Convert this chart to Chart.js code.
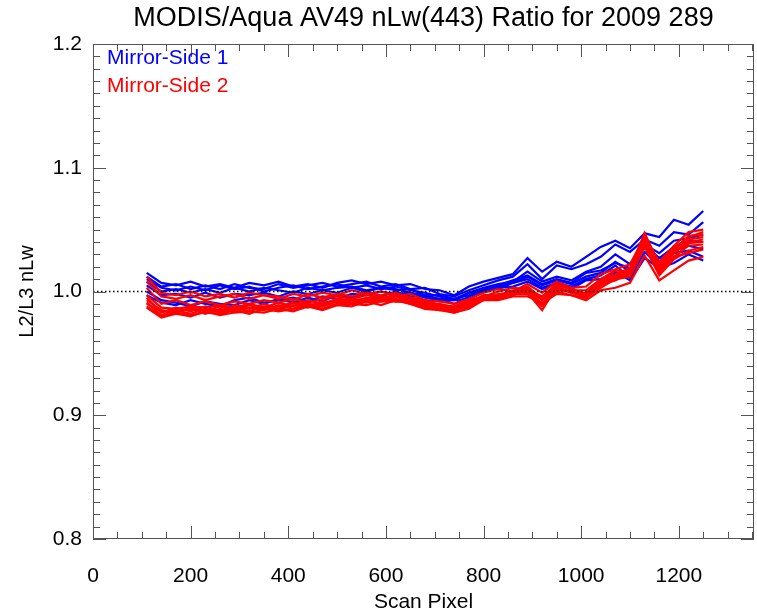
<!DOCTYPE html>
<html>
<head>
<meta charset="utf-8">
<title>MODIS/Aqua AV49 nLw(443) Ratio for 2009 289</title>
<script src="https://cdn.jsdelivr.net/npm/chart.js@4.4.1/dist/chart.umd.min.js"></script>
<style>
  html, body { margin: 0; padding: 0; background: #fff; }
</style>
</head>
<body>
<canvas id="ratio" width="757" height="615"></canvas>
<script>
// data
const chartTitle = 'MODIS/Aqua AV49 nLw(443) Ratio for 2009 289';
const legendNames = ['Mirror-Side 1', 'Mirror-Side 2'];
const xTicks = [0, 200, 400, 600, 800, 1000, 1200];
const yTicks = [0.8, 0.9, 1.0, 1.1, 1.2];
const xMax = 1354;
const refX = [0, 1354];
const refY = [1.0, 1.0];

const scanPixel = [110, 140, 170, 200, 230, 260, 290, 320, 350, 380, 410, 440, 470, 500, 530, 560, 590, 620, 650, 680,
                   710, 740, 770, 800, 830, 860, 890, 920, 950, 980, 1010, 1040, 1070, 1100, 1130, 1160, 1190, 1220, 1250];

// mirror side 1 (blue)
const side1 = [
  [1.015,1.007,1.005,1.008,1.004,1.006,1.003,1.007,1.005,1.008,1.004,1.006,1.003,1.007,1.009,1.006,1.008,1.005,1.006,1.002,
   1.001,0.997,1.004,1.008,1.011,1.014,1.027,1.016,1.024,1.020,1.028,1.036,1.041,1.035,1.047,1.044,1.058,1.054,1.065],
  [1.012,1.004,1.006,1.002,1.005,1.002,1.006,1.003,1.002,1.006,1.003,1.005,1.007,1.004,1.006,1.008,1.004,1.006,1.002,1.003,
   0.998,0.996,1.001,1.005,1.009,1.012,1.022,1.010,1.021,1.018,1.022,1.028,1.038,1.032,1.042,1.037,1.048,1.046,1.056],
  [1.010,1.003,1.001,1.004,1.001,1.005,1.002,1.004,1.000,1.003,1.005,1.002,1.004,1.006,1.003,1.005,1.002,1.004,1.001,0.999,
   0.996,0.993,0.999,1.003,1.006,1.008,1.016,1.008,1.012,1.009,1.016,1.020,1.030,1.022,1.038,1.031,1.041,1.043,1.046],
  [1.008,1.000,1.002,0.999,1.002,0.999,1.003,1.000,1.003,1.001,0.999,1.003,1.001,1.003,1.004,1.001,1.003,1.002,0.999,0.997,
   0.994,0.994,0.997,1.002,1.004,1.007,1.012,1.005,1.009,1.006,1.012,1.015,1.024,1.016,1.036,1.027,1.036,1.041,1.040],
  [0.997,0.991,0.989,0.993,0.990,0.988,0.993,0.995,0.991,0.993,0.995,0.992,0.996,0.994,0.998,0.997,1.000,0.998,0.999,0.995,
   0.993,0.990,0.996,1.001,1.002,1.007,1.010,1.003,1.007,1.004,1.010,1.013,1.021,1.011,1.032,1.021,1.031,1.033,1.028],
  [1.000,0.993,0.991,0.988,0.992,0.990,0.989,0.993,0.990,0.994,0.991,0.995,0.992,0.997,0.995,0.999,0.996,1.000,0.996,0.996,
   0.992,0.993,0.994,1.000,1.003,1.004,1.008,1.002,1.006,1.002,1.009,1.010,1.016,1.009,1.027,1.019,1.023,1.030,1.025],
  [1.005,0.997,0.998,0.995,0.999,0.995,0.998,0.997,0.999,0.996,1.000,0.998,1.001,0.999,1.003,1.000,1.003,1.001,1.002,0.997,
   0.997,0.994,0.999,1.002,1.005,1.009,1.013,1.006,1.010,1.007,1.015,1.017,1.023,1.019,1.037,1.027,1.033,1.037,1.034]
];

// mirror side 2 (red)
const side2 = [
  [1.012,0.999,0.997,1.000,0.996,0.998,0.995,0.999,0.997,0.994,0.998,0.996,0.999,0.997,1.001,0.998,1.000,0.996,0.998,0.993,
   0.992,0.990,0.994,0.999,1.002,1.000,1.006,0.999,1.008,1.003,1.004,1.014,1.018,1.022,1.044,1.024,1.037,1.048,1.050],
  [1.008,0.996,0.994,0.997,0.993,0.996,0.998,0.994,0.997,0.996,0.993,0.998,0.995,0.998,0.996,0.999,0.997,0.999,0.995,0.993,
   0.989,0.988,0.993,0.996,1.000,1.003,1.002,0.996,1.006,1.001,1.001,1.010,1.017,1.016,1.046,1.021,1.033,1.045,1.046],
  [1.003,0.990,0.993,0.989,0.992,0.989,0.992,0.990,0.993,0.991,0.994,0.991,0.994,0.996,0.994,0.997,0.995,0.997,0.994,0.992,
   0.988,0.987,0.991,0.997,0.997,1.001,1.001,0.989,1.004,0.999,0.999,1.008,1.013,1.018,1.041,1.019,1.031,1.042,1.044],
  [0.995,0.983,0.987,0.984,0.988,0.984,0.989,0.986,0.990,0.986,0.991,0.990,0.988,0.993,0.991,0.995,0.992,0.996,0.992,0.991,
   0.987,0.986,0.989,0.996,0.996,1.000,0.999,0.985,1.004,0.999,0.996,1.008,1.011,1.017,1.047,1.016,1.031,1.040,1.042],
  [0.991,0.981,0.985,0.982,0.986,0.983,0.987,0.984,0.988,0.985,0.989,0.987,0.990,0.989,0.993,0.991,0.994,0.992,0.993,0.988,
   0.986,0.984,0.990,0.993,0.997,0.997,1.001,0.990,1.001,1.000,0.995,1.006,1.009,1.015,1.039,1.017,1.027,1.039,1.040],
  [0.987,0.979,0.982,0.980,0.984,0.981,0.983,0.984,0.983,0.986,0.984,0.988,0.985,0.989,0.988,0.992,0.989,0.993,0.990,0.986,
   0.985,0.983,0.987,0.994,0.994,0.998,0.998,0.988,1.000,0.997,0.995,1.003,1.010,1.012,1.036,1.013,1.026,1.033,1.036],
  [0.990,0.984,0.984,0.986,0.982,0.986,0.984,0.987,0.985,0.989,0.986,0.990,0.988,0.992,0.990,0.993,0.992,0.994,0.990,0.989,
   0.985,0.986,0.988,0.995,0.995,0.998,1.003,0.993,1.002,1.000,0.997,1.005,1.012,1.014,1.043,1.019,1.028,1.037,1.038],
  [0.997,0.987,0.986,0.988,0.987,0.989,0.987,0.990,0.987,0.991,0.988,0.993,0.990,0.994,0.993,0.994,0.996,0.993,0.995,0.990,
   0.990,0.987,0.992,0.995,0.998,0.999,1.004,0.994,1.005,1.002,0.998,1.010,1.014,1.019,1.047,1.022,1.035,1.044,1.048],
  [0.988,0.980,0.983,0.981,0.983,0.982,0.985,0.982,0.986,0.984,0.986,0.989,0.986,0.990,0.990,0.989,0.992,0.992,0.991,0.987,
   0.986,0.983,0.986,0.993,0.993,0.996,0.996,0.991,0.998,0.997,0.993,1.001,1.003,1.007,1.029,1.009,1.017,1.025,1.028],
  [0.993,0.985,0.983,0.987,0.984,0.988,0.985,0.989,0.986,0.988,0.991,0.988,0.992,0.991,0.993,0.993,0.995,0.992,0.993,0.988,
   0.988,0.985,0.991,0.994,0.997,0.997,1.002,0.993,1.003,0.999,0.997,1.007,1.010,1.016,1.037,1.015,1.028,1.031,1.034]
];

const legendColors = ['#0000ff', '#ff0000'];

Chart.defaults.font.family = '"Liberation Sans", Arial, Helvetica, sans-serif';
Chart.defaults.color = '#000';

function toPoints(vals) {
    return vals.map((v, i) => ({ x: scanPixel[i], y: v }));
}

const datasets = [];
side1.forEach(line => {
    datasets.push({ data: toPoints(line), borderColor: legendColors[0], borderWidth: 2.2, order: 2 });
});
side2.forEach(line => {
    datasets.push({ data: toPoints(line), borderColor: legendColors[1], borderWidth: 2.2, order: 1 });
});
datasets.push({
    data: refX.map((v, i) => ({ x: v, y: refY[i] })),
    borderColor: '#000', borderWidth: 1.5, borderDash: [1.5, 2.5], order: 0
});

// box, inward ticks, title and legend text
const frame = {
    id: 'frame',
    afterDraw(chart) {
        const ctx = chart.ctx;
        const a = chart.chartArea;
        const x = chart.scales.x;
        const y = chart.scales.y;
        ctx.save();
        ctx.strokeStyle = '#555';
        ctx.lineWidth = 1;
        ctx.strokeRect(a.left + 0.5, a.top + 0.5, a.right - a.left - 1, a.bottom - a.top - 1);
        ctx.beginPath();
        for (let v = 0; v <= xMax; v += 50) {
            const px = Math.round(x.getPixelForValue(v)) + 0.5;
            const len = v % 200 === 0 ? 13 : 7;
            ctx.moveTo(px, a.bottom); ctx.lineTo(px, a.bottom - len);
            ctx.moveTo(px, a.top); ctx.lineTo(px, a.top + len);
        }
        for (let i = 0; i <= 40; i++) {
            const py = Math.round(y.getPixelForValue(0.8 + i * 0.01)) + 0.5;
            const len = i % 10 === 0 ? 13 : 7;
            ctx.moveTo(a.left, py); ctx.lineTo(a.left + len, py);
            ctx.moveTo(a.right, py); ctx.lineTo(a.right - len, py);
        }
        ctx.stroke();

        ctx.fillStyle = '#000';
        ctx.font = '27px "Liberation Sans", Arial, sans-serif';
        ctx.textAlign = 'center';
        ctx.textBaseline = 'middle';
        ctx.fillText(chartTitle, (a.left + a.right) / 2, 19);

        ctx.font = '21px "Liberation Sans", Arial, sans-serif';
        ctx.textAlign = 'left';
        legendNames.forEach((name, i) => {
            ctx.fillStyle = legendColors[i];
            ctx.fillText(name, a.left + 14, a.top + 14 + i * 28);
        });
        ctx.restore();
    }
};

new Chart(document.getElementById('ratio').getContext('2d'), {
    type: 'line',
    data: { datasets: datasets },
    options: {
        responsive: false,
        animation: false,
        layout: { padding: { top: 44, right: 3, left: 0, bottom: 0 } },
        elements: { point: { radius: 0 }, line: { tension: 0 } },
        plugins: { legend: { display: false }, tooltip: { enabled: false } },
        scales: {
            x: {
                type: 'linear',
                min: 0,
                max: xMax,
                afterBuildTicks: s => { s.ticks = xTicks.map(v => ({ value: v })); },
                afterFit: s => { s.height = 76; s.paddingLeft = 0; s.paddingRight = 0; },
                grid: { display: false, drawTicks: false },
                border: { display: false },
                ticks: { font: { size: 21 }, padding: 25, maxRotation: 0, callback: v => String(v) },
                title: { display: true, text: 'Scan Pixel', font: { size: 21 }, padding: { top: 0, bottom: 0 } }
            },
            y: {
                min: 0.8,
                max: 1.2,
                afterBuildTicks: s => { s.ticks = yTicks.map(v => ({ value: v })); },
                afterFit: s => { s.width = 93; s.paddingTop = 0; s.paddingBottom = 0; },
                grid: { display: false, drawTicks: false },
                border: { display: false },
                ticks: { font: { size: 21 }, padding: 11, callback: v => v.toFixed(1) },
                title: { display: true, text: 'L2/L3 nLw', font: { size: 20 }, padding: { top: 15, bottom: 0 } }
            }
        }
    },
    plugins: [frame]
});
</script>
</body>
</html>
